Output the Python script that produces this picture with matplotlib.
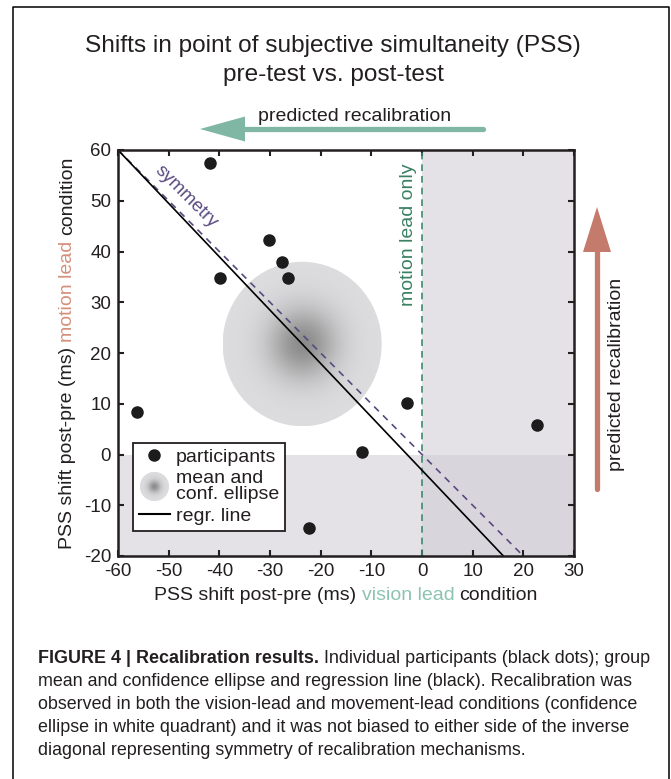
import numpy as np
import matplotlib
matplotlib.use("Agg")
import matplotlib.pyplot as plt
from matplotlib.patches import Ellipse, Polygon, Circle
from matplotlib.lines import Line2D
from matplotlib.legend_handler import HandlerBase
from matplotlib.colors import LinearSegmentedColormap

plt.rcParams['font.family'] = ['Liberation Sans', 'DejaVu Sans']
plt.rcParams['axes.unicode_minus'] = False

# ---------------- data ----------------
x_vision = [-41.8, -30.2, -27.6, -26.4, -39.9, -56.2, -11.9, -22.3, -2.9, 22.7]
y_motion = [57.5, 42.3, 37.9, 34.8, 34.8, 8.4, 0.5, -14.5, 10.2, 5.8]
ell_width = 31.4
ell_height = 32.4
x_ticks = [-60, -50, -40, -30, -20, -10, 0, 10, 20, 30]
y_ticks = [-20, -10, 0, 10, 20, 30, 40, 50, 60]
x_limits = (-60, 30)
y_limits = (-20, 60)
symmetry_x = [-60, 20]
title_lines = ["Shifts in point of subjective simultaneity (PSS)", "pre-test vs. post-test"]
caption_bold = "FIGURE 4 | Recalibration results."
caption_lines = [
    " Individual participants (black dots); group",
    "mean and confidence ellipse and regression line (black). Recalibration was",
    "observed in both the vision-lead and movement-lead conditions (confidence",
    "ellipse in white quadrant) and it was not biased to either side of the inverse",
    "diagonal representing symmetry of recalibration mechanisms.",
]

W, H = 671, 779
fig = plt.figure(figsize=(W / 100, H / 100), dpi=100)
fig.patch.set_facecolor('white')

def fx(px):
    return px / W

def fy(py):
    return 1 - py / H

ax_l, ax_r, ax_t, ax_b = 118, 574, 150, 556
ax = fig.add_axes([fx(ax_l), fy(ax_b), (ax_r - ax_l) / W, (ax_b - ax_t) / H])

INK = '#231f20'
shade = (209 / 255, 204 / 255, 214 / 255)
ax.axvspan(0, x_limits[1], color=shade, alpha=0.565, lw=0, zorder=0)
ax.axhspan(y_limits[0], 0, color=shade, alpha=0.565, lw=0, zorder=0)

# confidence ellipse with gradient
xv = np.array(x_vision)
yv = np.array(y_motion)
mx, my = xv.mean(), yv.mean()
gx = np.linspace(mx - ell_width / 2, mx + ell_width / 2, 400)
gy = np.linspace(my - ell_height / 2, my + ell_height / 2, 400)
GX, GY = np.meshgrid(gx, gy)
R2 = ((GX - mx) / (ell_width / 2)) ** 2 + ((GY - my) / (ell_height / 2)) ** 2
Z = 1 - np.exp(-R2 / (2 * 0.09))
cmap = LinearSegmentedColormap.from_list('g', [(0.55, 0.55, 0.55), (0.865, 0.865, 0.875)])
im = ax.imshow(Z, extent=[gx[0], gx[-1], gy[0], gy[-1]], origin='lower', cmap=cmap,
               vmin=0, vmax=1, zorder=1, interpolation='bilinear', aspect='auto')
ell = Ellipse((mx, my), ell_width, ell_height, facecolor='none', edgecolor='none', zorder=1)
ax.add_patch(ell)
im.set_clip_path(ell)

# symmetry line
sx = np.array(symmetry_x, dtype=float)
ax.plot(sx, -sx, color='#5a4a80', lw=1.2, dashes=(4, 3.5), zorder=3)
# motion lead only line
ax.plot([0, 0], list(y_limits), color='#3d8a6e', lw=1.2, dashes=(4, 3), zorder=3)

# orthogonal regression line
cov = np.cov(xv, yv)
evals, evecs = np.linalg.eigh(cov)
v = evecs[:, np.argmax(evals)]
slope = v[1] / v[0]
rx = np.array(x_limits, dtype=float)
ax.plot(rx, my + slope * (rx - mx), color='k', lw=1.2, zorder=4)

ax.plot(xv, yv, 'o', color='#1c1c1c', markersize=8, zorder=5, ls='none')

ax.set_xlim(*x_limits)
ax.set_ylim(*y_limits)
ax.set_xticks(x_ticks)
ax.set_yticks(y_ticks)
ax.tick_params(direction='in', length=4.5, width=1.5, top=True, right=True,
               labelsize=13.5, colors=INK, pad=5)
ax.tick_params(axis='x', labeltop=False)
ax.tick_params(axis='y', labelright=False)
for s in ax.spines.values():
    s.set_linewidth(1.8)
    s.set_color(INK)
    s.set_zorder(6)

ax.text(-46.5, 50.8, 'symmetry', rotation=-45, color='#5a4a80', fontsize=13.5,
        ha='center', va='center', zorder=6)
ax.text(-1.8, 43.3, 'motion lead only', rotation=90, rotation_mode='anchor',
        color='#3a8062', fontsize=14, ha='center', va='baseline', zorder=6)

# legend
class HandlerGrad(HandlerBase):
    def create_artists(self, legend, orig_handle, xdescent, ydescent, width, height,
                       fontsize, trans):
        cx = width / 2 - xdescent
        cy = height / 2 - ydescent
        r = 10.5
        arts = []
        n = 40
        for i in range(n):
            f = 1 - i / n
            t = np.exp(-(f ** 2) / (2 * 0.09))
            c0 = np.array([0.865, 0.865, 0.875])
            c1 = np.array([0.55, 0.55, 0.55])
            col = c0 + (c1 - c0) * t
            arts.append(Circle((cx, cy), r * f, facecolor=col, edgecolor='none', transform=trans))
        return arts

class GradHandle:
    pass

h_pts = Line2D([], [], marker='o', ls='none', color='#1c1c1c', markersize=8)
h_ell = GradHandle()
h_reg = Line2D([], [], color='k', lw=1.5)
leg = ax.legend([h_pts, h_ell, h_reg], ['participants', 'mean and\nconf. ellipse', 'regr. line'],
                handler_map={GradHandle: HandlerGrad()},
                loc='lower left', bbox_to_anchor=(0.033, 0.0616), borderaxespad=0,
                fontsize=14, handlelength=1.6, handletextpad=0.3, labelspacing=0.22,
                borderpad=0.3, fancybox=False, framealpha=1, edgecolor=INK)
leg.get_frame().set_linewidth(1.3)
leg.set_zorder(7)
for t in leg.get_texts():
    t.set_linespacing(0.92)
    t.set_color(INK)

# ---------------- figure-level decorations ----------------
renderer = fig.canvas.get_renderer()

def text_width(s, fontsize, weight='normal', family=None):
    kw = {}
    if family is not None:
        kw['family'] = family
    t = fig.text(0, 0, s, fontsize=fontsize, weight=weight, **kw)
    w = t.get_window_extent(renderer).width
    t.remove()
    return w

def multicolor(pieces, cx, cy, rotation=0, fontsize=14):
    full = ''.join(p for p, _ in pieces)
    total = text_width(full, fontsize)
    start0 = -total / 2
    pos = 0
    for p, c in pieces:
        end = pos + len(p)
        stripped = p.strip()
        if stripped:
            prefix = full[:pos + len(p.rstrip())]
            wpre = text_width(prefix, fontsize)
            wp = text_width(stripped, fontsize)
            off = start0 + wpre - wp
            if rotation == 0:
                fig.text(fx(cx + off), fy(cy), stripped, color=c, fontsize=fontsize,
                         ha='left', va='baseline')
            else:
                fig.text(fx(cx), fy(cy - off), stripped, color=c, fontsize=fontsize,
                         ha='left', va='baseline', rotation=90, rotation_mode='anchor')
        pos = end

multicolor([('PSS shift post-pre (ms) ', INK), ('vision lead', '#8cc4b0'), (' condition', INK)],
           346, 600)
multicolor([('PSS shift post-pre (ms) ', INK), ('motion lead', '#d4907c'), (' condition', INK)],
           72, 353, rotation=90)

fig.text(fx(333), fy(52), title_lines[0], fontsize=17.6, ha='center', va='baseline', color=INK)
fig.text(fx(333), fy(81), title_lines[1], fontsize=17.6, ha='center', va='baseline', color=INK)

fig.text(fx(355), fy(121), 'predicted recalibration', fontsize=14, ha='center', va='baseline', color=INK)
fig.text(fx(621), fy(374), 'predicted recalibration', fontsize=14, ha='center', va='baseline',
         rotation=90, rotation_mode='anchor', color=INK)

# arrows
green = '#80b6a4'
red = '#c57b6b'
fig.add_artist(Line2D([fx(483), fx(240)], [fy(129), fy(129)], color=green, lw=3.8,
                      solid_capstyle='round'))
fig.add_artist(Polygon([(fx(200), fy(129)), (fx(245), fy(116.5)), (fx(245), fy(141.5))],
                       closed=True, facecolor=green, edgecolor='none'))
fig.add_artist(Line2D([fx(597), fx(597)], [fy(489), fy(247)], color=red, lw=3.8,
                      solid_capstyle='round'))
fig.add_artist(Polygon([(fx(597), fy(207)), (fx(583), fy(252)), (fx(611), fy(252))],
                       closed=True, facecolor=red, edgecolor='none'))

# caption (fit the first line to the reference width)
cap_family = ['Liberation Sans', 'DejaVu Sans']
cap_x = 38
cap_target_w = 612
cap_y = [663, 686, 709, 732, 755]
ref_fs = 10.0
w_bold = text_width(caption_bold, ref_fs, weight='bold', family=cap_family)
wsp10 = text_width('a a', ref_fs, family=cap_family) - text_width('aa', ref_fs, family=cap_family)
cap_fs = ref_fs * cap_target_w / (w_bold + wsp10 + text_width(caption_lines[0].strip(), ref_fs, family=cap_family))
tb = fig.text(fx(cap_x), fy(cap_y[0]), caption_bold, fontsize=cap_fs, weight='bold',
              family=cap_family, ha='left', va='baseline', color=INK)
bb = tb.get_window_extent(renderer)
wsp = text_width('a a', cap_fs, family=cap_family) - text_width('aa', cap_fs, family=cap_family)
fig.text(fx(bb.x1 + wsp), fy(cap_y[0]), caption_lines[0].strip(), fontsize=cap_fs,
         family=cap_family, ha='left', va='baseline', color=INK)
for line, yy in zip(caption_lines[1:], cap_y[1:]):
    fig.text(fx(cap_x), fy(yy), line, fontsize=cap_fs, family=cap_family,
             ha='left', va='baseline', color=INK)

# frame
fig.add_artist(Line2D([fx(13), fx(13), fx(669), fx(669)], [-0.01, fy(7), fy(7), -0.01],
                      color='k', lw=1.1))

fig.savefig('out.png', dpi=100, facecolor='white')
